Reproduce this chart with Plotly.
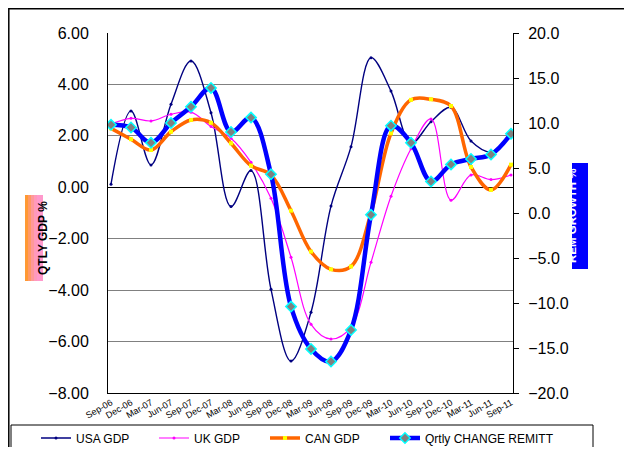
import plotly.graph_objects as go

categories = ["Sep-06", "Dec-06", "Mar-07", "Jun-07", "Sep-07", "Dec-07", "Mar-08", "Jun-08",
              "Sep-08", "Dec-08", "Mar-09", "Jun-09", "Sep-09", "Dec-09", "Mar-10", "Jun-10",
              "Sep-10", "Dec-10", "Mar-11", "Jun-11", "Sep-11"]
usa_gdp = [0.12, 2.97, 0.87, 3.23, 4.91, 2.90, -0.75, 0.65, -3.97, -6.76, -4.86, -0.73,
           1.58, 5.04, 3.74, 1.71, 2.55, 3.11, 1.80, 1.38, 2.10]
uk_gdp = [2.46, 2.68, 2.58, 2.84, 2.92, 2.36, 1.91, 0.97, -0.43, -2.72, -5.33, -5.90,
          -5.44, -2.92, -0.35, 1.50, 2.66, -0.50, 0.48, 0.30, 0.48]
can_gdp = [2.29, 1.87, 1.45, 2.16, 2.62, 2.51, 1.71, 0.84, 0.48, -0.91, -2.50, -3.19,
           -3.08, -1.00, 2.10, 3.40, 3.42, 3.16, 0.79, -0.10, 0.88]
remitt = [9.8, 9.5, 7.8, 10.0, 11.8, 13.9, 9.0, 10.6, 4.3, -10.4, -15.1, -16.5,
          -13.0, -0.2, 9.7, 7.8, 3.5, 5.4, 6.0, 6.5, 8.8]

left_ticks = [6, 4, 2, 0, -2, -4, -6, -8]
right_ticks = [20, 15, 10, 5, 0, -5, -10, -15, -20]

FONT = "Liberation Sans, Arial, sans-serif"
OFF = 8                      # page body margin
W, H = 632 - 2 * OFF, 455 - 2 * OFF
# plot area in page pixels
L, R, T, B = 108, 513, 33, 393


def px(x):
    return (x - L) / (R - L)


def py(y):
    return (B - y) / (B - T)


fig = go.Figure()
fig.add_trace(go.Scatter(x=categories, y=usa_gdp, name="USA GDP", mode="lines+markers",
                         legend="legend",
                         line=dict(color="#000080", width=1.4, shape="spline"),
                         marker=dict(color="#000080", size=3, symbol="circle")))
fig.add_trace(go.Scatter(x=categories, y=uk_gdp, name="UK GDP", mode="lines+markers",
                         legend="legend2",
                         line=dict(color="#FF00FF", width=1.2, shape="spline"),
                         marker=dict(color="#FF00FF", size=3, symbol="circle")))
fig.add_trace(go.Scatter(x=categories, y=can_gdp, name="CAN GDP", mode="lines+markers",
                         legend="legend3",
                         line=dict(color="#FF6600", width=3.5, shape="spline"),
                         marker=dict(color="#FFFF00", size=4, symbol="square")))
fig.add_trace(go.Scatter(x=categories, y=remitt, name="Qrtly CHANGE REMITT", mode="lines+markers",
                         yaxis="y2", legend="legend4",
                         line=dict(color="#0000FF", width=4.5, shape="spline"),
                         marker=dict(color="#808080", size=8, symbol="diamond",
                                     line=dict(color="#00FFFF", width=1.5))))

shapes = []
# outer chart border
shapes.append(dict(type="rect", xref="paper", yref="paper",
                   x0=px(8.8), x1=px(660), y0=py(480), y1=py(8.8),
                   line=dict(color="black", width=1.5), fillcolor="rgba(0,0,0,0)", layer="below"))
# legend box
shapes.append(dict(type="rect", xref="paper", yref="paper",
                   x0=px(11), x1=px(593), y0=py(451), y1=py(425),
                   line=dict(color="black", width=1), fillcolor="rgba(0,0,0,0)"))
# left title gradient background
grad = ["#FF9933", "#FF9966", "#FF9999", "#FF99BB", "#FF99CC", "#FF99CC"]
for i, c in enumerate(grad):
    shapes.append(dict(type="rect", xref="paper", yref="paper",
                       x0=px(25 + 3 * i), x1=px(25 + 3 * (i + 1)), y0=py(281), y1=py(195),
                       line=dict(width=0), fillcolor=c))
# right title background
shapes.append(dict(type="rect", xref="paper", yref="paper",
                   x0=px(572), x1=px(588), y0=py(269), y1=py(163),
                   line=dict(width=0), fillcolor="#0000FF"))

annotations = [
    dict(text="<b>QTLY GDP %</b>", xref="paper", yref="paper", x=px(34), y=py(238),
         textangle=-90, showarrow=False, font=dict(family=FONT, size=12, color="black")),
    dict(text="<b>REM GROWTH %</b>", xref="paper", yref="paper", x=px(580), y=py(216),
         textangle=-90, showarrow=False, font=dict(family=FONT, size=11.5, color="white")),
]


def leg(text_start):
    return dict(orientation="h", x=px(text_start - 39), y=py(438), xanchor="left",
                yanchor="middle", bgcolor="rgba(0,0,0,0)", borderwidth=0,
                font=dict(family=FONT, size=12, color="black"), itemwidth=30)


fig.update_layout(
    width=W, height=H,
    margin=dict(l=L - OFF, r=(W + OFF) - R, t=T - OFF, b=(H + OFF) - B, pad=0,
                autoexpand=False),
    paper_bgcolor="white", plot_bgcolor="white",
    font=dict(family=FONT, color="black"),
    showlegend=True,
    legend=leg(75), legend2=leg(193), legend3=leg(304), legend4=leg(424),
    xaxis=dict(type="category", range=[-0.15, 20.1], showgrid=False,
               showline=True, linecolor="black", linewidth=1, ticks="",
               tickangle=-30, tickfont=dict(family=FONT, size=9), mirror=False,
               automargin=False),
    xaxis2=dict(overlaying="x", anchor="free", position=8 / 14, range=[-0.15, 20.1],
                showgrid=False, showline=True, linecolor="black", linewidth=1,
                tickmode="array", tickvals=[i + 0.85 for i in range(20)],
                ticks="outside", ticklen=3, tickcolor="black", showticklabels=False,
                zeroline=False, automargin=False),
    yaxis=dict(range=[-8, 6], tickvals=left_ticks, tickformat=".2f",
               showgrid=True, gridcolor="#808080", gridwidth=1,
               showline=True, linecolor="black", linewidth=1, ticks="",
               zeroline=True, zerolinecolor="black", zerolinewidth=1,
               tickfont=dict(family=FONT, size=16), ticklabelstandoff=15,
               automargin=False),
    yaxis2=dict(range=[-20, 20], tickvals=right_ticks, tickformat=".1f",
                overlaying="y", side="right", showgrid=False, zeroline=False,
                showline=True, linecolor="black", linewidth=1,
                ticks="outside", ticklen=5, tickcolor="black",
                tickfont=dict(family=FONT, size=16), ticklabelstandoff=6,
                automargin=False),
    shapes=shapes,
    annotations=annotations,
)

fig.write_html("out.html")
